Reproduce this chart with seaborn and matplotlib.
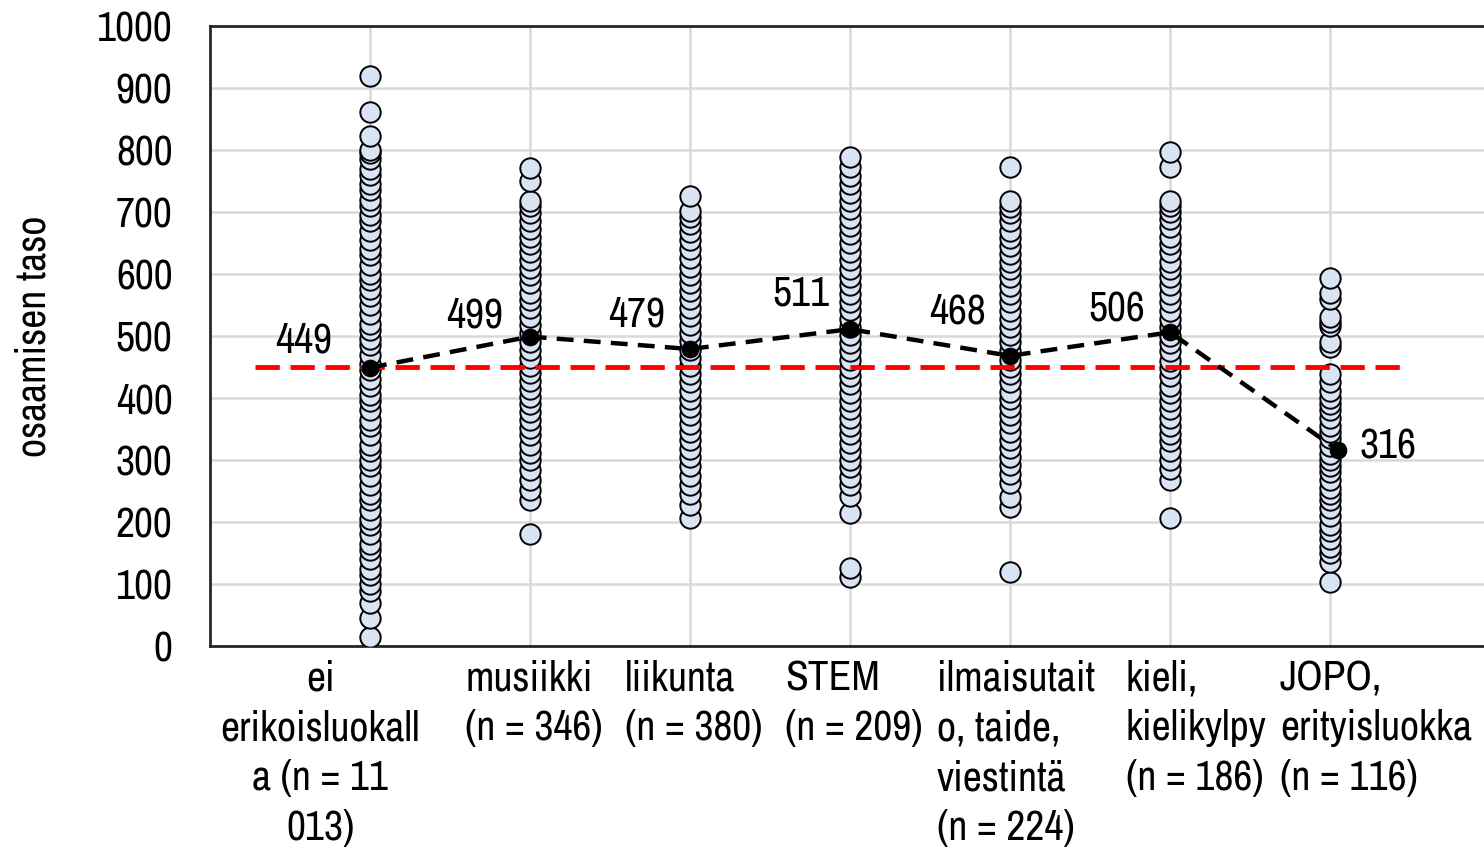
import matplotlib
matplotlib.use("Agg")
import matplotlib.pyplot as plt
import matplotlib.transforms as mtransforms
from matplotlib import font_manager
import pandas as pd
import seaborn as sns

# category labels (wrapped like the original)
categories = [
    "ei\nerikoisluokall\na (n = 11\n013)",
    "musiikki\n(n = 346)",
    "liikunta\n(n = 380)",
    "STEM\n(n = 209)",
    "ilmaisutait\no, taide,\nviestintä\n(n = 224)",
    "kieli,\nkielikylpy\n(n = 186)",
    "JOPO,\nerityisluokka\n(n = 116)",
]

# individual scores (overlapping columns)
ei_erikois = [15, 45, 70, 88, 100, 115, 125, 140, 155, 165, 180, 195, 205, 220, 235,
              245, 260, 275, 290, 300, 315, 325, 340, 355, 365, 380, 395, 405, 420,
              430, 445, 455, 470, 485, 495, 510, 520, 535, 550, 565, 575, 590, 600,
              615, 630, 640, 655, 670, 685, 695, 710, 720, 735, 745, 760, 770, 785,
              795, 800, 822, 862, 920]
musiikki = [180, 236, 252, 268, 284, 300, 312, 325, 340, 352, 365, 378, 390, 402, 415,
            428, 440, 452, 465, 478, 490, 505, 518, 530, 545, 558, 570, 585, 598, 610,
            622, 635, 648, 660, 672, 685, 698, 710, 717, 750, 771]
liikunta = [207, 228, 245, 260, 275, 290, 305, 318, 332, 345, 358, 372, 385, 398, 412,
            425, 438, 452, 465, 478, 492, 505, 518, 532, 545, 560, 572, 585, 598, 612,
            625, 640, 655, 668, 680, 692, 701, 725]
stem = [112, 126, 215, 242, 260, 272, 288, 300, 315, 328, 342, 355, 368, 382, 395, 408,
        422, 435, 448, 462, 475, 488, 502, 515, 528, 542, 555, 568, 582, 595, 608, 622,
        635, 650, 665, 678, 690, 705, 718, 730, 745, 758, 772, 788]
ilmaisu = [120, 225, 241, 263, 278, 292, 305, 320, 332, 345, 360, 372, 385, 398, 410,
           425, 438, 450, 462, 475, 490, 502, 515, 528, 540, 555, 568, 580, 595, 608,
           620, 632, 645, 658, 670, 685, 698, 708, 717, 772]
kieli = [207, 268, 285, 300, 315, 330, 342, 355, 368, 382, 395, 408, 420, 435, 448, 460,
         475, 488, 500, 515, 528, 540, 555, 568, 582, 595, 608, 620, 635, 648, 660, 675,
         688, 700, 710, 717, 772, 796]
jopo = [103, 136, 150, 160, 172, 185, 195, 210, 222, 235, 245, 255, 268, 280, 290, 300,
        310, 322, 335, 345, 355, 368, 380, 390, 400, 412, 425, 438, 483, 490, 516, 522,
        530, 560, 570, 594]

# group means (labelled values) and overall reference level
means = [449, 499, 479, 511, 468, 506, 316]
overall_mean = 450

groups = [ei_erikois, musiikki, liikunta, stem, ilmaisu, kieli, jopo]

rows = []
for i, vals in enumerate(groups):
    for v in vals:
        rows.append({"pos": i + 1, "score": v})
points_df = pd.DataFrame(rows)
means_df = pd.DataFrame({"pos": range(1, len(means) + 1), "score": means})
means_df["pos"] = means_df["pos"].astype(float)
means_df.loc[6, "pos"] += 0.05  # JOPO mean marker sits a bit right of the column

sns.set_theme(style="white")

# look for a condensed face (the original uses Arial Narrow)
names = sorted({f.name for f in font_manager.fontManager.ttflist})
condensed = [n for n in names if "Narrow" in n or "Condensed" in n]
if condensed:
    fam = [condensed[0], "DejaVu Sans"]
    FS, LFS = 30, 30
else:
    fam = ["Liberation Sans", "DejaVu Sans"]
    FS, LFS = 28, 25
plt.rcParams["font.family"] = fam
plt.rcParams["text.color"] = "black"

fig = plt.figure(figsize=(14.84, 8.55), dpi=100)
ax = fig.add_axes([210 / 1484, 209 / 855, 1290 / 1484, 620 / 855])

sns.scatterplot(data=points_df, x="pos", y="score", ax=ax, s=215, color="#dae3f3",
                edgecolor="black", linewidth=1.4, zorder=3, legend=False)

ax.plot([0.28, 7.5], [overall_mean, overall_mean], color="#ff0000", lw=3.5,
        dashes=(5, 2.2), zorder=4)

sns.lineplot(data=means_df, x="pos", y="score", ax=ax, color="black", lw=3.2,
             marker="o", markersize=12, markeredgecolor="black", zorder=5,
             sort=False)
ax.lines[-1].set_dashes((3.8, 2.3))
ax.lines[-1].set_dash_capstyle("butt")

# mean value labels, offsets in pixels like the original
label_offsets = [(-66, 27), (-55, 21), (-53, 35), (-49, 36), (-53, 44), (-53, 23), (50, 4)]
for (x, y), m, off in zip(means_df[["pos", "score"]].values, means, label_offsets):
    ax.annotate(str(m), (x, y), xytext=off, textcoords="offset pixels",
                ha="center", va="center", fontsize=FS, color="black", zorder=6)

ax.set_xlim(0, 1290 / 160)
ax.set_ylim(0, 1000)
ax.set_xticks(range(1, 8))
ax.set_xticklabels([])
ax.set_yticks(range(0, 1001, 100))
ax.tick_params(axis="both", length=0, colors="black")
ax.tick_params(axis="y", labelsize=FS, pad=27)
ax.grid(True, color="#d9d9d9", lw=1.8)
ax.set_axisbelow(True)
ax.set_xlabel("")
ax.set_ylabel("osaamisen taso", fontsize=FS, labelpad=32, color="black")

for side in ["left", "bottom", "top"]:
    ax.spines[side].set_color("#262626")
    ax.spines[side].set_linewidth(2)
ax.spines["right"].set_visible(False)

# category labels under the axis (left edge of each block, relative to its column)
label_shift = [-0.31, -0.406, -0.406, -0.406, -0.456, -0.275, -0.3125]
trans = mtransforms.blended_transform_factory(ax.transData, ax.transAxes)
for i, (lab, dx) in enumerate(zip(categories, label_shift)):
    if i == 0:
        ax.text(i + 1 + dx, -0.022, lab, transform=trans, ha="center", va="top",
                multialignment="center", fontsize=LFS, linespacing=1.38)
    else:
        ax.text(i + 1 + dx, -0.022, lab, transform=trans, ha="left", va="top",
                multialignment="left", fontsize=LFS, linespacing=1.38)

fig.savefig("out.png", dpi=100)
